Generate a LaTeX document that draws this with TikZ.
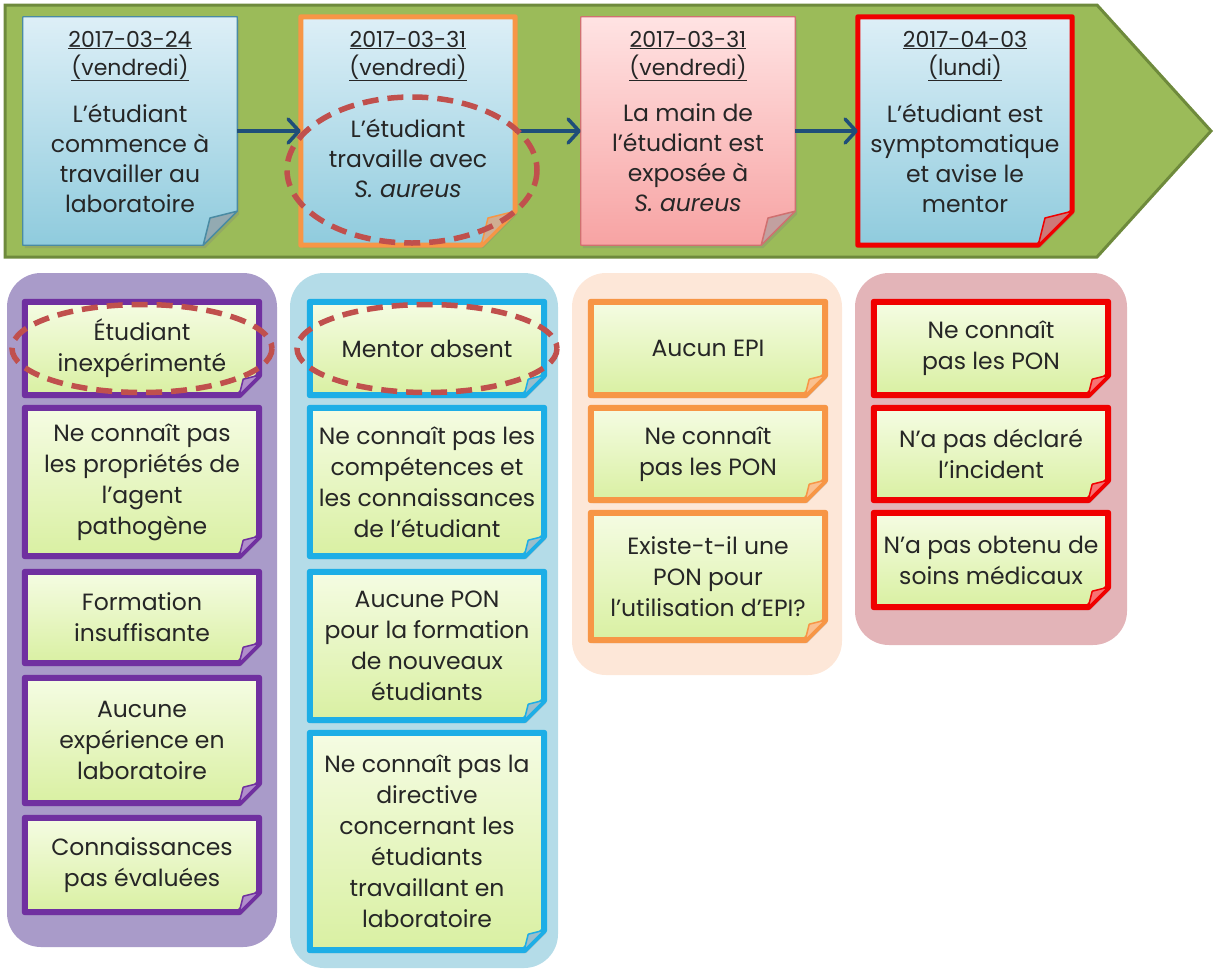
\documentclass[tikz,border=0pt]{standalone}
\usepackage{fontspec}
\setmainfont{Poppins}
\usepackage{tikz}
\usetikzlibrary{positioning,calc,backgrounds,shadows,arrows.meta}
\definecolor{bandfill}{HTML}{9BBB59}
\definecolor{bandedge}{HTML}{6E8A3C}
\definecolor{notetop}{HTML}{DDEFF7}
\definecolor{notebot}{HTML}{8FCBDD}
\definecolor{noteedge}{HTML}{4A8BA3}
\definecolor{pinktop}{HTML}{FFE3E3}
\definecolor{pinkbot}{HTML}{F7A3A3}
\definecolor{pinkedge}{HTML}{D07070}
\definecolor{orng}{HTML}{F79646}
\definecolor{redd}{HTML}{F00000}
\definecolor{arrowblue}{HTML}{1F4E79}
\definecolor{ringred}{HTML}{C0504D}
\definecolor{panpurp}{HTML}{A99BC9}
\definecolor{panblue}{HTML}{B4DCE8}
\definecolor{panpeach}{HTML}{FDE7D8}
\definecolor{panrose}{HTML}{E3B4B8}
\definecolor{purp}{HTML}{7030A0}
\definecolor{cyanb}{HTML}{1DAEE6}
\definecolor{cardtop}{HTML}{F5FCE3}
\definecolor{cardbot}{HTML}{D9F0A2}
\definecolor{txt}{HTML}{262626}
\tikzset{banner/.style={fill=bandfill, draw=bandedge, line width=3pt},
  panel/.style={rounded corners=34pt},
  notebox/.style={rectangle, inner sep=0pt, minimum width=214pt, minimum height=228pt},
  whenlabel/.style={align=center, text=txt, font=\fontsize{22}{28}\selectfont},
  notetext/.style={align=center, text=txt, font=\fontsize{23.5}{30}\selectfont},
  card/.style={rectangle, inner sep=0pt, minimum width=234pt, align=center, text=txt, font=\fontsize{23.5}{31}\selectfont},
  body/.style={line join=round, drop shadow={shadow xshift=2pt, shadow yshift=-3pt, opacity=.3}},
  cardbody/.style={body, top color=cardtop, bottom color=cardbot, line width=6pt},
  fold/.style={line width=1.5pt, line join=round},
  arrow/.style={draw=arrowblue, line width=3.5pt, -{Straight Barb[length=11pt, width=24pt, line width=3.5pt, round]}},
  ring/.style={draw=ringred, line width=5.5pt, dash pattern=on 16pt off 9pt}}
\newcommand{\notepath}[2]{(#1.north west) -- (#1.north east) -- ($(#1.south east)+(0,-#2)$) -- ($(#1.south east)+(-#2,0)$) -- (#1.south west) -- cycle}
\newcommand{\foldpath}[2]{($(#1.south east)+(0,-#2)$) -- ($(#1.south east)+(-#2,0)$) -- ($(#1.south east)+({-0.8*#2},{-0.8*#2})$) -- cycle}
\begin{document}
\begin{tikzpicture}[x=1pt, y=-1pt]
  \useasboundingbox (0,0) rectangle (1215,972);
  % bandeau et panneaux
  \begin{scope}[on background layer]
    \draw[banner] (5,5) -- (1097,5) -- (1211,131) -- (1097,257) -- (5,257) -- cycle;
    \foreach \xa/\xb/\yb/\col in {7/277/947/panpurp, 290/558/968/panblue, 572/842/675/panpeach, 855/1127/645/panrose}
      \fill[panel, fill=\col] (\xa,273) rectangle (\xb,\yb);
  \end{scope}
  % chronologie
  \foreach \nm/\cx/\when/\day/\ct/\cb/\edge/\lw/\txt in {
      d1/130/2017-03-24/vendredi/notetop/notebot/noteedge/1.2/{L’étudiant\\commence à\\travailler au\\laboratoire},
      d2/408/2017-03-31/vendredi/notetop/notebot/orng/5/{L’étudiant\\travaille avec\\\textit{S. aureus}},
      d3/688/2017-03-31/vendredi/pinktop/pinkbot/pinkedge/1.2/{La main de\\l’étudiant est\\exposée à\\\textit{S. aureus}},
      d4/965/2017-04-03/lundi/notetop/notebot/redd/5/{L’étudiant est\\symptomatique\\et avise le\\mentor}} {
    \node[notebox] (\nm) at (\cx,131) {};
    \node[whenlabel] (\nm-when) at (\cx,56) {\underline{\when}\\\underline{(\day)}};
    \node[notetext] (\nm-txt) at (\cx,158) {\txt};
    \begin{scope}[on background layer]
      \draw[body, top color=\ct, bottom color=\cb, draw=\edge, line width=\lw pt] \notepath{\nm}{34};
      \draw[fold, draw=\edge, fill=\edge!50!gray!70] \foldpath{\nm}{34};
    \end{scope}
  }
  \draw[arrow] (d1) -- (d2);
  \draw[arrow] (d2) -- (d3);
  \draw[arrow] (d3) -- (d4);
  % facteurs
  \foreach \nm/\ya/\yb/\txt in {e1/302/395/{Étudiant\\inexpérimenté},
      e2/408/556/{Ne connaît pas\\les propriétés de\\l’agent\\pathogène},
      e3/572/663/{Formation\\insuffisante},
      e4/678/803/{Aucune\\expérience en\\laboratoire},
      e5/818/912/{Connaissances\\pas évaluées}} {
    \node[card, minimum height={\yb-\ya}] (\nm) at (142,{(\ya+\yb)/2}) {\txt};
    \begin{scope}[on background layer]
      \draw[cardbody, draw=purp] \notepath{\nm}{20};
      \draw[fold, draw=purp, fill=purp!55] \foldpath{\nm}{20};
    \end{scope}
  }
  \foreach \nm/\ya/\yb/\txt in {m1/302/395/{Mentor absent},
      m2/408/556/{Ne connaît pas les\\compétences et\\les connaissances\\de l’étudiant},
      m3/572/720/{Aucune PON\\pour la formation\\de nouveaux\\étudiants},
      m4/733/950/{Ne connaît pas la\\directive\\concernant les\\étudiants\\travaillant en\\laboratoire}} {
    \node[card, minimum height={\yb-\ya}] (\nm) at (427,{(\ya+\yb)/2}) {\txt};
    \begin{scope}[on background layer]
      \draw[cardbody, draw=cyanb] \notepath{\nm}{20};
      \draw[fold, draw=cyanb, fill=cyanb!40!gray!60] \foldpath{\nm}{20};
    \end{scope}
  }
  \foreach \nm/\ya/\yb/\txt in {x1/302/395/{Aucun EPI},
      x2/408/500/{Ne connaît\\pas les PON},
      x3/513/640/{Existe-t-il une\\PON pour\\l’utilisation d’EPI?}} {
    \node[card, minimum height={\yb-\ya}] (\nm) at (708,{(\ya+\yb)/2}) {\txt};
    \begin{scope}[on background layer]
      \draw[cardbody, draw=orng] \notepath{\nm}{20};
      \draw[fold, draw=orng, fill=orng!60] \foldpath{\nm}{20};
    \end{scope}
  }
  \foreach \nm/\ya/\yb/\txt in {s1/302/395/{Ne connaît\\pas les PON},
      s2/408/500/{N’a pas déclaré\\l’incident},
      s3/513/607/{N’a pas obtenu de\\soins médicaux}} {
    \node[card, minimum height={\yb-\ya}] (\nm) at (991,{(\ya+\yb)/2}) {\txt};
    \begin{scope}[on background layer]
      \draw[cardbody, draw=redd] \notepath{\nm}{20};
      \draw[fold, draw=redd, fill=redd!55] \foldpath{\nm}{20};
    \end{scope}
  }
  % cercles en tirets
  \draw[ring] ([shift={(4,39)}]d2.center) ellipse [x radius=125, y radius=73];
  \draw[ring] (e1) ellipse [x radius=130, y radius=44];
  \draw[ring] (m1) ellipse [x radius=130, y radius=44];
\end{tikzpicture}
\end{document}
